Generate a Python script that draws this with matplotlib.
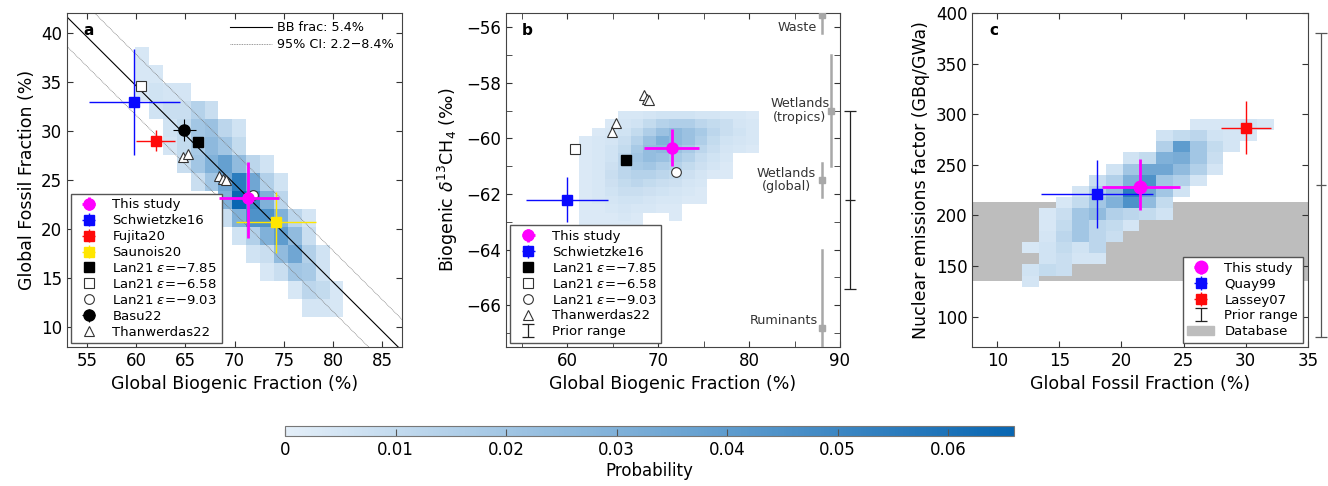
import numpy as np
import matplotlib
matplotlib.use('Agg')
import matplotlib.pyplot as plt
from matplotlib.colors import LinearSegmentedColormap
from matplotlib.lines import Line2D
from matplotlib.patches import Patch

plt.rcParams['font.family'] = ['DejaVu Sans']
plt.rcParams['mathtext.fontset'] = 'dejavusans'

# ---------------- data ----------------
# panel a heat map (rows listed top -> bottom)
a_xedges = np.linspace(59.9, 81.05, 16)
a_yedges = np.linspace(11.1, 38.55, 16)
a_prob = [
    [.004, 0, 0, 0, 0, 0, 0, 0, 0, 0, 0, 0, 0, 0, 0],
    [.004, .004, 0, 0, 0, 0, 0, 0, 0, 0, 0, 0, 0, 0, 0],
    [.004, .006, .005, .005, 0, 0, 0, 0, 0, 0, 0, 0, 0, 0, 0],
    [0, .006, .008, .008, .014, .008, 0, 0, 0, 0, 0, 0, 0, 0, 0],
    [0, 0, .006, .010, .020, .022, .012, .006, 0, 0, 0, 0, 0, 0, 0],
    [0, 0, .005, .010, .018, .026, .020, .010, 0, 0, 0, 0, 0, 0, 0],
    [0, 0, 0, .008, .020, .030, .038, .025, .012, .006, 0, 0, 0, 0, 0],
    [0, 0, 0, 0, .008, .020, .035, .055, .035, .015, .006, 0, 0, 0, 0],
    [0, 0, 0, 0, 0, 0, .030, .066, .050, .030, .012, 0, 0, 0, 0],
    [0, 0, 0, 0, 0, 0, .008, .030, .045, .045, .030, .012, .005, 0, 0],
    [0, 0, 0, 0, 0, 0, 0, .006, .015, .030, .040, .025, .008, 0, 0],
    [0, 0, 0, 0, 0, 0, 0, 0, .006, .008, .025, .035, .015, .006, 0],
    [0, 0, 0, 0, 0, 0, 0, 0, 0, .004, .008, .020, .018, .006, 0],
    [0, 0, 0, 0, 0, 0, 0, 0, 0, 0, 0, .004, .012, .010, .004],
    [0, 0, 0, 0, 0, 0, 0, 0, 0, 0, 0, 0, .005, .005, .004],
]

# panel b heat map (rows top -> bottom)
b_xedges = np.linspace(59.9, 81.05, 16)
b_yedges = np.linspace(-63.6, -59.0, 16)
b_prob = [
    [0, 0, 0, 0, .004, .004, .005, .006, .006, .006, .005, .005, .004, .004, .003],
    [0, 0, 0, .003, .005, .006, .010, .014, .016, .016, .012, .010, .008, .005, .004],
    [0, 0, .003, .004, .006, .010, .016, .022, .026, .022, .018, .012, .008, .006, .004],
    [0, .003, .004, .005, .008, .014, .022, .030, .026, .022, .016, .010, .006, .005, .004],
    [0, .003, .004, .006, .010, .018, .024, .026, .022, .018, .012, .008, .005, .004, .003],
    [0, .003, .004, .006, .012, .020, .024, .022, .018, .014, .009, .006, .004, 0, 0],
    [0, .003, .004, .007, .012, .018, .020, .016, .014, .010, .007, .005, .003, 0, 0],
    [0, .003, .004, .008, .012, .014, .014, .012, .010, .007, .005, .003, .003, 0, 0],
    [0, .003, .004, .007, .010, .012, .010, .008, .007, .005, .004, 0, 0, 0, 0],
    [0, .003, .004, .006, .008, .008, .007, .006, .005, .004, .003, 0, 0, 0, 0],
    [0, .003, .004, .005, .006, .006, .005, .004, .004, .003, .003, 0, 0, 0, 0],
    [0, .003, .003, .004, .005, .004, .004, .003, .003, 0, 0, 0, 0, 0, 0],
    [0, .003, .003, .003, .004, .003, 0, 0, .003, 0, 0, 0, 0, 0, 0],
    [0, .003, .003, .003, .003, .003, 0, 0, 0, 0, 0, 0, 0, 0, 0],
    [0, .003, .003, .003, .003, 0, 0, 0, 0, 0, 0, 0, 0, 0, 0],
]

# panel c heat map (rows top -> bottom)
c_xedges = np.linspace(12.0, 32.25, 16)
c_yedges = np.linspace(129.6, 295.5, 16)
c_prob = [
    [0, 0, 0, 0, 0, 0, 0, 0, 0, 0, .004, .004, .004, .006, .004],
    [0, 0, 0, 0, 0, 0, 0, 0, .006, .010, .012, .006, .005, .004, 0],
    [0, 0, 0, 0, 0, 0, 0, 0, .015, .040, .020, .010, .005, 0, 0],
    [0, 0, 0, 0, 0, 0, .006, .010, .030, .032, .020, .008, 0, 0, 0],
    [0, 0, 0, 0, 0, .006, .020, .035, .035, .025, .015, .005, 0, 0, 0],
    [0, 0, 0, 0, .008, .015, .030, .045, .020, .015, .005, 0, 0, 0, 0],
    [0, 0, 0, .005, .015, .025, .055, .035, .020, .006, 0, 0, 0, 0, 0],
    [0, 0, .004, .010, .020, .030, .045, .025, .010, 0, 0, 0, 0, 0, 0],
    [0, .004, .008, .020, .025, .015, .012, .010, .006, 0, 0, 0, 0, 0, 0],
    [0, .004, .010, .020, .012, .010, .005, 0, 0, 0, 0, 0, 0, 0, 0],
    [0, .005, .012, .020, .012, .008, 0, 0, 0, 0, 0, 0, 0, 0, 0],
    [.004, .006, .010, .006, .012, 0, 0, 0, 0, 0, 0, 0, 0, 0, 0],
    [0, .006, .008, .005, .005, 0, 0, 0, 0, 0, 0, 0, 0, 0, 0],
    [.006, .010, .008, 0, 0, 0, 0, 0, 0, 0, 0, 0, 0, 0, 0],
    [.005, 0, 0, 0, 0, 0, 0, 0, 0, 0, 0, 0, 0, 0, 0],
]

# biomass-burning fraction lines (fossil + biogenic = 100 - bb)
bb_frac = [5.4, 2.2, 8.4]

# panel a points: (x, y, xerr_lo, xerr_hi, yerr_lo, yerr_hi)
a_this = (71.4, 23.2, 3.0, 3.1, 4.1, 3.6)
a_schw = (59.8, 32.9, 4.6, 4.7, 5.3, 5.4)
a_fuji = (62.0, 29.0, 2.0, 2.0, 1.05, 1.05)
a_saun = (74.2, 20.7, 4.1, 4.1, 3.1, 3.1)
a_basu = (64.9, 30.1, 1.2, 1.2, 1.15, 1.15)
a_lan785 = (66.3, 28.9)
a_lan658 = (60.5, 34.6)
a_lan903 = (71.9, 23.5)
a_than_x = [64.8, 65.3, 68.4, 68.8, 69.1]
a_than_y = [27.3, 27.7, 25.4, 25.1, 25.0]

# panel b points
b_this = (71.5, -60.33, 3.1, 3.0, 0.65, 0.66)
b_schw = (60.0, -62.2, 4.6, 4.5, 0.8, 0.8)
b_lan785 = (66.4, -60.79)
b_lan658 = (60.8, -60.4)
b_lan903 = (71.95, -61.2)
b_than_x = [65.35, 64.95, 68.46, 68.8, 69.0]
b_than_y = [-59.46, -59.76, -58.45, -58.57, -58.63]
b_prior = (-62.2, 3.2)          # centre, half-range
# source signatures: name, x, marker y, line lo, line hi
b_src_names = ['Waste', 'Wetlands\n(tropics)', 'Wetlands\n(global)', 'Ruminants']
b_src_x = [88, 89, 88, 88]
b_src_mid = [-55.58, -59.0, -61.5, -66.8]
b_src_lo = [-56.2, -61.0, -62.1, -68.0]
b_src_hi = [-55.0, -57.0, -60.9, -64.0]

# panel c points
c_this = (21.5, 228.0, 3.1, 3.2, 23.0, 28.0)
c_quay = (18.0, 221.6, 4.5, 4.5, 33.5, 33.5)
c_lass = (30.0, 286.8, 2.0, 2.0, 26.0, 26.0)
c_prior = (230.0, 150.0)
c_database = (135.0, 213.0)

# ---------------- styling ----------------
MAG = '#ff00ff'
BLUE = '#0a0aff'
RED = '#ff0a0a'
YEL = '#ffe600'
cmap = LinearSegmentedColormap.from_list('prob', ['#e4eff9', '#0866b2'])
VMAX = 0.066

fig = plt.figure(figsize=(13.28, 4.86), dpi=100)
axA = fig.add_axes([0.0505, 0.286, 0.2523, 0.687])
axB = fig.add_axes([0.3808, 0.286, 0.2517, 0.687])
axC = fig.add_axes([0.7322, 0.286, 0.2526, 0.687])
cax = fig.add_axes([0.2148, 0.1029, 0.549, 0.0206])


def heat(ax, xe, ye, grid):
    g = np.flipud(np.array(grid, dtype=float))
    g = np.ma.masked_equal(g, 0)
    return ax.pcolormesh(xe, ye, g, cmap=cmap, vmin=0, vmax=VMAX, zorder=1)


def eb(ax, p, color, marker, ms, lw, mfc=None, mec=None, z=5):
    x, y, xl, xh, yl, yh = p
    return ax.errorbar([x], [y], xerr=[[xl], [xh]], yerr=[[yl], [yh]], fmt=marker,
                       color=color, ms=ms, lw=lw, capsize=0,
                       mfc=mfc if mfc else color, mec=mec if mec else color, zorder=z)


def style(ax):
    ax.tick_params(direction='in', top=True, right=True, length=4, labelsize=12,
                   which='both', color='#333333')
    for s in ax.spines.values():
        s.set_color('#444444')
        s.set_linewidth(0.8)


LEGKW = dict(fontsize=9.5, labelspacing=0.22, handlelength=2.0, handletextpad=0.8,
             fancybox=False, edgecolor='#555555', framealpha=1, borderpad=0.35,
             borderaxespad=0)

# ---------------- panel a ----------------
ax = axA
mesh = heat(ax, a_xedges, a_yedges, a_prob)
xx = np.array([50, 90])
l_bb, = ax.plot(xx, (100 - bb_frac[0]) - xx, color='k', lw=0.8, zorder=2)
l_ci, = ax.plot(xx, (100 - bb_frac[1]) - xx, color='#777777', lw=0.6, ls=(0, (1, 1)), zorder=2)
ax.plot(xx, (100 - bb_frac[2]) - xx, color='#777777', lw=0.6, ls=(0, (1, 1)), zorder=2)

h_schw = eb(ax, a_schw, BLUE, 's', 6.5, 1.0)
h_fuji = eb(ax, a_fuji, RED, 's', 6.5, 1.0)
h_saun = eb(ax, a_saun, YEL, 's', 6.5, 1.0)
h_basu = eb(ax, a_basu, 'k', 'o', 8, 0.8)
h_l785, = ax.plot(*a_lan785, 's', color='k', ms=6.5, zorder=6)
h_l658, = ax.plot(*a_lan658, 's', mfc='white', mec='#333333', ms=6.5, mew=0.8, zorder=6)
h_l903, = ax.plot(*a_lan903, 'o', mfc='white', mec='#333333', ms=7, mew=0.8, zorder=6)
h_than, = ax.plot(a_than_x, a_than_y, '^', mfc='white', mec='#333333', ms=7, mew=0.8,
                  ls='none', zorder=6)
h_this = eb(ax, a_this, MAG, 'o', 8, 2.0, z=7)

ax.set_xlim(53, 87)
ax.set_ylim(8, 42)
ax.set_xticks([55, 60, 65, 70, 75, 80, 85])
ax.set_yticks([10, 15, 20, 25, 30, 35, 40])
style(ax)
ax.set_xlabel('Global Biogenic Fraction (%)', fontsize=12.5)
ax.set_ylabel('Global Fossil Fraction (%)', fontsize=12.5)
ax.text(0.063, 0.947, 'a', transform=ax.transAxes, fontsize=11, fontweight='bold',
        va='center', ha='center')
leg1 = ax.legend([l_bb, l_ci], ['BB frac: 5.4%', '95% CI: 2.2\u22128.4%'],
                 loc='upper right', frameon=False, fontsize=9.2, handlelength=3.3,
                 borderaxespad=0.25, labelspacing=0.3, handletextpad=0.4)
ax.add_artist(leg1)
ax.legend([h_this, h_schw, h_fuji, h_saun, h_l785, h_l658, h_l903, h_basu, h_than],
          ['This study', 'Schwietzke16', 'Fujita20', 'Saunois20',
           'Lan21 $\\epsilon$=\u22127.85', 'Lan21 $\\epsilon$=\u22126.58',
           'Lan21 $\\epsilon$=\u22129.03', 'Basu22', 'Thanwerdas22'],
          loc='lower left', bbox_to_anchor=(0.011, 0.011), **LEGKW)

# ---------------- panel b ----------------
ax = axB
heat(ax, b_xedges, b_yedges, b_prob)
hb_schw = eb(ax, b_schw, BLUE, 's', 6.5, 1.0)
hb_l785, = ax.plot(*b_lan785, 's', color='k', ms=6.5, zorder=6)
hb_l658, = ax.plot(*b_lan658, 's', mfc='white', mec='#333333', ms=6.5, mew=0.8, zorder=6)
hb_l903, = ax.plot(*b_lan903, 'o', mfc='white', mec='#333333', ms=7, mew=0.8, zorder=6)
hb_than, = ax.plot(b_than_x, b_than_y, '^', mfc='white', mec='#333333', ms=7, mew=0.8,
                   ls='none', zorder=6)
hb_this = eb(ax, b_this, MAG, 'o', 8, 2.0, z=7)

for nm, sx, sm, lo, hi in zip(b_src_names, b_src_x, b_src_mid, b_src_lo, b_src_hi):
    ax.plot([sx, sx], [lo, hi], color='#a8a8a8', lw=1.8, zorder=3)
    ax.plot([sx], [sm], 's', color='#a8a8a8', ms=4, zorder=3)
ax.text(87.5, -56.0, b_src_names[0], ha='right', va='center', fontsize=9.2, color='#333333')
ax.text(85.6, -59.0, b_src_names[1], ha='center', va='center', fontsize=9.2,
        color='#333333', linespacing=1.05)
ax.text(84.1, -61.5, b_src_names[2], ha='center', va='center', fontsize=9.2,
        color='#333333', linespacing=1.05)
ax.text(83.8, -66.55, b_src_names[3], ha='center', va='center', fontsize=9.2, color='#333333')

ax.set_xlim(53.2, 90)
ax.set_ylim(-67.5, -55.5)
ax.set_xticks([60, 70, 80, 90])
ax.set_xticks([55, 65, 75, 85], minor=True)
ax.set_yticks([-66, -64, -62, -60, -58, -56])
ax.set_yticks([-67, -65, -63, -61, -59, -57], minor=True)
style(ax)
hb_prior = ax.errorbar([91.1], [b_prior[0]], yerr=[b_prior[1]], fmt='none', color='#222222',
                       lw=0.9, capsize=4, capthick=0.9, zorder=8)
for art in hb_prior.get_children():
    art.set_clip_on(False)
mid, = ax.plot([91.1], [b_prior[0]], '_', color='#222222', ms=7, mew=0.9, zorder=8)
mid.set_clip_on(False)
ax.set_xlabel('Global Biogenic Fraction (%)', fontsize=12.5)
ax.set_ylabel('Biogenic $\\delta^{13}$CH$_4$ (\u2030)', fontsize=12.5)
ax.text(0.063, 0.947, 'b', transform=ax.transAxes, fontsize=11, fontweight='bold',
        va='center', ha='center')
ax.legend([hb_this, hb_schw, hb_l785, hb_l658, hb_l903, hb_than, hb_prior],
          ['This study', 'Schwietzke16', 'Lan21 $\\epsilon$=\u22127.85',
           'Lan21 $\\epsilon$=\u22126.58', 'Lan21 $\\epsilon$=\u22129.03',
           'Thanwerdas22', 'Prior range'],
          loc='lower left', bbox_to_anchor=(0.014, 0.012), **LEGKW)

# ---------------- panel c ----------------
ax = axC
ax.axhspan(c_database[0], c_database[1], color='#bdbdbd', lw=0, zorder=0)
heat(ax, c_xedges, c_yedges, c_prob)
hc_quay = eb(ax, c_quay, BLUE, 's', 7, 1.0)
hc_lass = eb(ax, c_lass, RED, 's', 7, 1.0)
hc_this = eb(ax, c_this, MAG, 'o', 9, 2.0, z=7)
ax.set_xlim(8, 35)
ax.set_ylim(70, 400)
ax.set_xticks([10, 15, 20, 25, 30, 35])
ax.set_yticks([100, 150, 200, 250, 300, 350, 400])
style(ax)
hc_prior = ax.errorbar([36.05], [c_prior[0]], yerr=[c_prior[1]], fmt='none', color='#555555',
                       lw=0.9, capsize=4, capthick=0.9, zorder=8)
for art in hc_prior.get_children():
    art.set_clip_on(False)
mid, = ax.plot([36.05], [c_prior[0]], '_', color='#555555', ms=7, mew=0.9, zorder=8)
mid.set_clip_on(False)
hc_prior_leg = ax.errorbar([], [], yerr=[], fmt='none', color='#222222', lw=0.9,
                           capsize=4, capthick=0.9)
ax.set_xlabel('Global Fossil Fraction (%)', fontsize=12.5)
ax.set_ylabel('Nuclear emissions factor (GBq/GWa)', fontsize=12.5)
ax.text(0.063, 0.947, 'c', transform=ax.transAxes, fontsize=11, fontweight='bold',
        va='center', ha='center')
ax.legend([hc_this, hc_quay, hc_lass, hb_prior, Patch(color='#bdbdbd')],
          ['This study', 'Quay99', 'Lassey07', 'Prior range', 'Database'],
          loc='lower right', bbox_to_anchor=(0.985, 0.012), **LEGKW)

# ---------------- colorbar ----------------
cb = fig.colorbar(mesh, cax=cax, orientation='horizontal',
                  ticks=[0, 0.01, 0.02, 0.03, 0.04, 0.05, 0.06])
cb.ax.tick_params(direction='in', length=5, labelsize=12, color='#555555')
cb.outline.set_edgecolor('#777777')
cb.outline.set_linewidth(0.8)
cb.ax.set_xticklabels(['0', '0.01', '0.02', '0.03', '0.04', '0.05', '0.06'])
cb.set_label('Probability', fontsize=12, labelpad=2)

fig.savefig('out.png', dpi=100)
